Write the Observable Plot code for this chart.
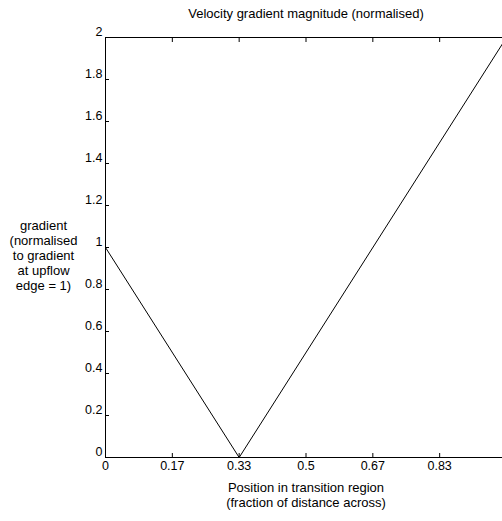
<!DOCTYPE html>
<html>
<head>
<meta charset="utf-8">
<script src="https://cdn.jsdelivr.net/npm/d3@7"></script>
<script src="https://cdn.jsdelivr.net/npm/@observablehq/plot@0.6"></script>
<style>
  html, body { margin: 0; padding: 0; background: #fff; }
</style>
</head>
<body>
<div id="chart"></div>
<script>
const positions = [0, 1/3, 1];
const gradients = [1, 0, 2];
const xTicks = [0, 1/6, 2/6, 3/6, 4/6, 5/6, 1];
const xTickLabels = ["0", "0.17", "0.33", "0.5", "0.67", "0.83", "1"];
const yTicks = [0, 0.2, 0.4, 0.6, 0.8, 1, 1.2, 1.4, 1.6, 1.8, 2];
const yTickLabels = ["0", "0.2", "0.4", "0.6", "0.8", "1", "1.2", "1.4", "1.6", "1.8", "2"];
const titleText = "Velocity gradient magnitude (normalised)";
const xLabelText = "Position in transition region\n(fraction of distance across)";
const yLabelText = "gradient\n(normalised\nto gradient\nat upflow\nedge = 1)";

const data = positions.map((p, i) => ({x: p, y: gradients[i]}));
const xLabelOf = v => xTickLabels[xTicks.findIndex(t => Math.abs(t - v) < 1e-9)];
const yLabelOf = v => yTickLabels[yTicks.findIndex(t => Math.abs(t - v) < 1e-9)];
const blank = () => "";

const chart = Plot.plot({
  width: 502,
  height: 521,
  marginLeft: 105,
  marginRight: -4,
  marginTop: 37,
  marginBottom: 64,
  style: {fontFamily: "'Liberation Sans', Arial, sans-serif", fontSize: "12.5px", color: "#000", background: "#fff"},
  x: {domain: [0, 1]},
  y: {domain: [0, 2]},
  marks: [
    Plot.frame({stroke: "#000"}),
    // inward tick marks
    Plot.axisX(xTicks, {anchor: "bottom", tickSize: 4, dy: -4, tickFormat: blank, label: null}),
    Plot.axisX(xTicks, {anchor: "top", tickSize: 4, dy: 4, tickFormat: blank, label: null}),
    Plot.axisY(yTicks, {anchor: "left", tickSize: 4, dx: 4, tickFormat: blank, label: null}),
    Plot.axisY(yTicks, {anchor: "right", tickSize: 4, dx: -4, tickFormat: blank, label: null}),
    // tick labels
    Plot.axisX(xTicks.slice(0, 6), {anchor: "bottom", tickSize: 0, tickPadding: 4, tickFormat: xLabelOf, label: null, fontSize: 12.5}),
    Plot.axisY(yTicks, {anchor: "left", tickSize: 0, tickPadding: 3, dy: -6, tickFormat: yLabelOf, label: null, fontSize: 12.5}),
    Plot.line(data, {x: "x", y: "y", stroke: "#000", strokeWidth: 1}),
    Plot.text([titleText], {frameAnchor: "top", dy: -24, lineAnchor: "middle", text: d => d, fontSize: 13}),
    Plot.text([xLabelText], {frameAnchor: "bottom", dy: 37.5, lineAnchor: "middle", text: d => d, fontSize: 13, lineHeight: 1.15}),
    Plot.text([yLabelText], {frameAnchor: "left", dx: -62, dy: 8, lineAnchor: "middle", text: d => d, fontSize: 13, lineHeight: 1.15, textAnchor: "middle"})
  ]
});
document.getElementById("chart").appendChild(chart);
</script>
</body>
</html>
